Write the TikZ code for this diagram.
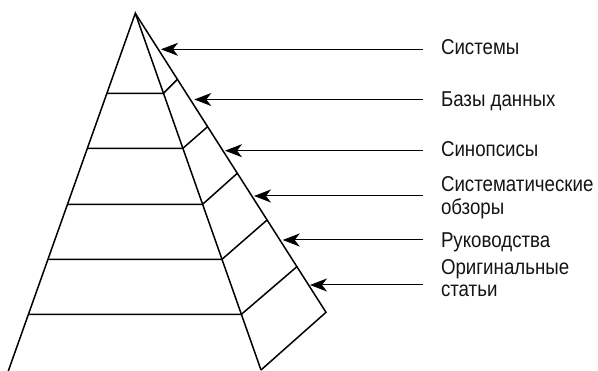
\documentclass[tikz,border=0pt]{standalone}
\usepackage{fontspec}
\newfontfamily\labfont[FakeStretch=0.87]{Liberation Sans}
\usetikzlibrary{arrows.meta}
\begin{document}
\begin{tikzpicture}[x=1pt,y=-1pt,
  pyr/.style={line width=1.5pt, line join=miter},
  arr/.style={line width=1pt, -{Stealth[length=17pt,width=13pt,inset=5pt]}},
  lab/.style={anchor=base west, inner sep=0pt, outer sep=0pt, align=left,
    text=black!92, font=\labfont\fontsize{21.5}{22.5}\selectfont}]
\useasboundingbox (0,0) rectangle (598,371);
% pyramid outline
\coordinate (A) at (135.3,13.3);
\coordinate (BL) at (8.3,371);
\coordinate (BI) at (261,370);
\coordinate (BO) at (326,312.3);
\draw[pyr] (BL) -- (A) -- (BI);
\draw[pyr] (A) -- (BO) -- (BI);
% levels
\draw[pyr] (106.9,93.3) -- (163.5,93.3) -- (177.4,79.3);
\draw[pyr] (87.4,148.3) -- (182.9,148.3) -- (207.6,126.7);
\draw[pyr] (67.5,204.3) -- (202.6,204.3) -- (237.3,173.3);
\draw[pyr] (48.0,259.3) -- (222.0,259.3) -- (267.1,220);
\draw[pyr] (28.4,314.3) -- (241.4,314.3) -- (296.9,266.7);
% labels (multi-line nodes are placed by the baseline of their last line)
\node[lab] (l1) at (441,55) {Системы};
\node[lab] (l2) at (441,106.5) {Базы данных};
\node[lab] (l3) at (441,157) {Синопсисы};
\node[lab] (l4) at (441,214.5) {Систематические\\обзоры};
\node[lab] (l5) at (441,247.5) {Руководства};
\node[lab] (l6) at (441,297) {Оригинальные\\статьи};
% arrows
\foreach \i/\y/\tx in {1/49.3/161, 2/99.5/194.3, 3/150.7/225, 4/196/254, 5/240/282.7, 6/285/310}{
  \coordinate (s\i) at (423.3,\y);
  \coordinate (t\i) at (\tx,\y);
  \draw[arr] (s\i) -- (t\i);
}
\end{tikzpicture}
\end{document}
